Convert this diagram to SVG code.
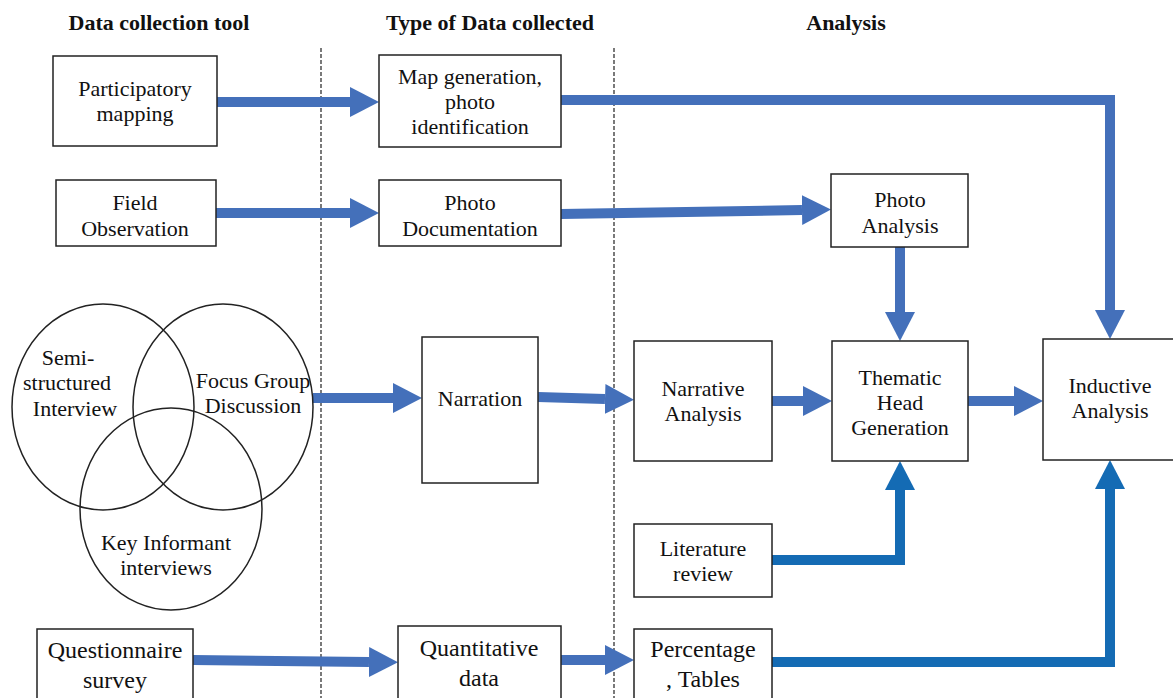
<svg xmlns="http://www.w3.org/2000/svg" width="1173" height="698" viewBox="0 0 1173 698">
  <style>
    .box { fill: #fff; stroke: #222; stroke-width: 1.5; }
    .ell { fill: none; stroke: #222; stroke-width: 1.5; }
    .t { font-family: "Liberation Serif", "Times New Roman", serif; font-size: 22px; fill: #111; text-anchor: middle; }
    .tl { font-size: 24px; }
    .hd { font-family: "Liberation Serif", "Times New Roman", serif; font-size: 22px; font-weight: bold; fill: #111; text-anchor: middle; }
    .sep { stroke: #222; stroke-width: 1.2; stroke-dasharray: 4 2; }
    .a { fill: none; stroke: #4470BA; stroke-width: 10; marker-end: url(#head); }
    .b { fill: none; stroke: #146BB4; stroke-width: 10; marker-end: url(#headB); }
  </style>
  <defs>
    <marker id="head" markerUnits="userSpaceOnUse" markerWidth="30" markerHeight="32" refX="0" refY="16" orient="auto">
      <path d="M0,1 L29,16 L0,31 Z" fill="#4470BA"/>
    </marker>
    <marker id="headB" markerUnits="userSpaceOnUse" markerWidth="30" markerHeight="32" refX="0" refY="16" orient="auto">
      <path d="M0,1 L29,16 L0,31 Z" fill="#146BB4"/>
    </marker>
  </defs>
  <rect width="1173" height="698" fill="#fff"/>

  <!-- column headers -->
  <text class="hd" x="159" y="30">Data collection tool</text>
  <text class="hd" x="490" y="30">Type of Data collected</text>
  <text class="hd" x="846" y="30">Analysis</text>

  <!-- column separators -->
  <line class="sep" x1="321" y1="48" x2="321" y2="698"/>
  <line class="sep" x1="614" y1="48" x2="614" y2="698"/>

  <!-- connectors -->
  <g id="connectors">
    <path class="a" d="M217,102 L350,102"/>
    <path class="a" d="M561,100 L1110,100 L1110,310"/>
    <path class="a" d="M216,213 L350,213"/>
    <path class="a" d="M561,214 L802,210"/>
    <path class="a" d="M900,247 L900,312"/>
    <path class="a" d="M313,398 L393,398"/>
    <path class="a" d="M538,397 L605,399"/>
    <path class="a" d="M772,401 L803,401"/>
    <path class="a" d="M968,401 L1014,401"/>
    <path class="b" d="M772,560 L900,560 L900,490"/>
    <path class="b" d="M772,662 L1110,662 L1110,489"/>
    <path class="a" d="M193,660 L369,662"/>
    <path class="a" d="M561,660 L605,660"/>
  </g>

  <!-- data collection tools -->
  <g id="participatory-mapping">
    <rect class="box" x="53" y="56" width="164" height="90"/>
    <text class="t" x="135" y="96">Participatory</text>
    <text class="t" x="135" y="121">mapping</text>
  </g>
  <g id="field-observation">
    <rect class="box" x="56" y="180" width="160" height="66"/>
    <text class="t" x="135" y="210">Field</text>
    <text class="t" x="135" y="236">Observation</text>
  </g>
  <g id="interviews-venn">
    <ellipse class="ell" cx="103" cy="407" rx="91" ry="103"/>
    <ellipse class="ell" cx="223" cy="407" rx="90" ry="103"/>
    <ellipse class="ell" cx="171" cy="509" rx="91" ry="101"/>
    <text class="t" x="68" y="365">Semi-</text>
    <text class="t" x="67" y="390">structured</text>
    <text class="t" x="75" y="416">Interview</text>
    <text class="t" x="253" y="388">Focus Group</text>
    <text class="t" x="253" y="413">Discussion</text>
    <text class="t" x="166" y="550">Key Informant</text>
    <text class="t" x="166" y="575">interviews</text>
  </g>
  <g id="questionnaire-survey">
    <rect class="box" x="37" y="629" width="156" height="75"/>
    <text class="t tl" x="115" y="658">Questionnaire</text>
    <text class="t tl" x="115" y="688">survey</text>
  </g>

  <!-- data collected -->
  <g id="map-generation">
    <rect class="box" x="379" y="55" width="182" height="92"/>
    <text class="t" x="470" y="84">Map generation,</text>
    <text class="t" x="470" y="109">photo</text>
    <text class="t" x="470" y="134">identification</text>
  </g>
  <g id="photo-documentation">
    <rect class="box" x="379" y="180" width="182" height="66"/>
    <text class="t" x="470" y="210">Photo</text>
    <text class="t" x="470" y="236">Documentation</text>
  </g>
  <g id="narration">
    <rect class="box" x="422" y="337" width="116" height="146"/>
    <text class="t" x="480" y="406">Narration</text>
  </g>
  <g id="quantitative-data">
    <rect class="box" x="398" y="626" width="163" height="78"/>
    <text class="t tl" x="479" y="656">Quantitative</text>
    <text class="t tl" x="479" y="686">data</text>
  </g>

  <!-- analysis -->
  <g id="photo-analysis">
    <rect class="box" x="831" y="174" width="137" height="73"/>
    <text class="t" x="900" y="207">Photo</text>
    <text class="t" x="900" y="233">Analysis</text>
  </g>
  <g id="narrative-analysis">
    <rect class="box" x="634" y="341" width="138" height="120"/>
    <text class="t" x="703" y="396">Narrative</text>
    <text class="t" x="703" y="421">Analysis</text>
  </g>
  <g id="thematic-head-generation">
    <rect class="box" x="832" y="341" width="136" height="120"/>
    <text class="t" x="900" y="385">Thematic</text>
    <text class="t" x="900" y="410">Head</text>
    <text class="t" x="900" y="435">Generation</text>
  </g>
  <g id="inductive-analysis">
    <rect class="box" x="1043" y="339" width="140" height="121"/>
    <text class="t" x="1110" y="393">Inductive</text>
    <text class="t" x="1110" y="418">Analysis</text>
  </g>
  <g id="literature-review">
    <rect class="box" x="634" y="524" width="138" height="73"/>
    <text class="t" x="703" y="556">Literature</text>
    <text class="t" x="703" y="581">review</text>
  </g>
  <g id="percentage-tables">
    <rect class="box" x="634" y="629" width="138" height="75"/>
    <text class="t tl" x="703" y="657">Percentage</text>
    <text class="t tl" x="703" y="687">, Tables</text>
  </g>
</svg>
